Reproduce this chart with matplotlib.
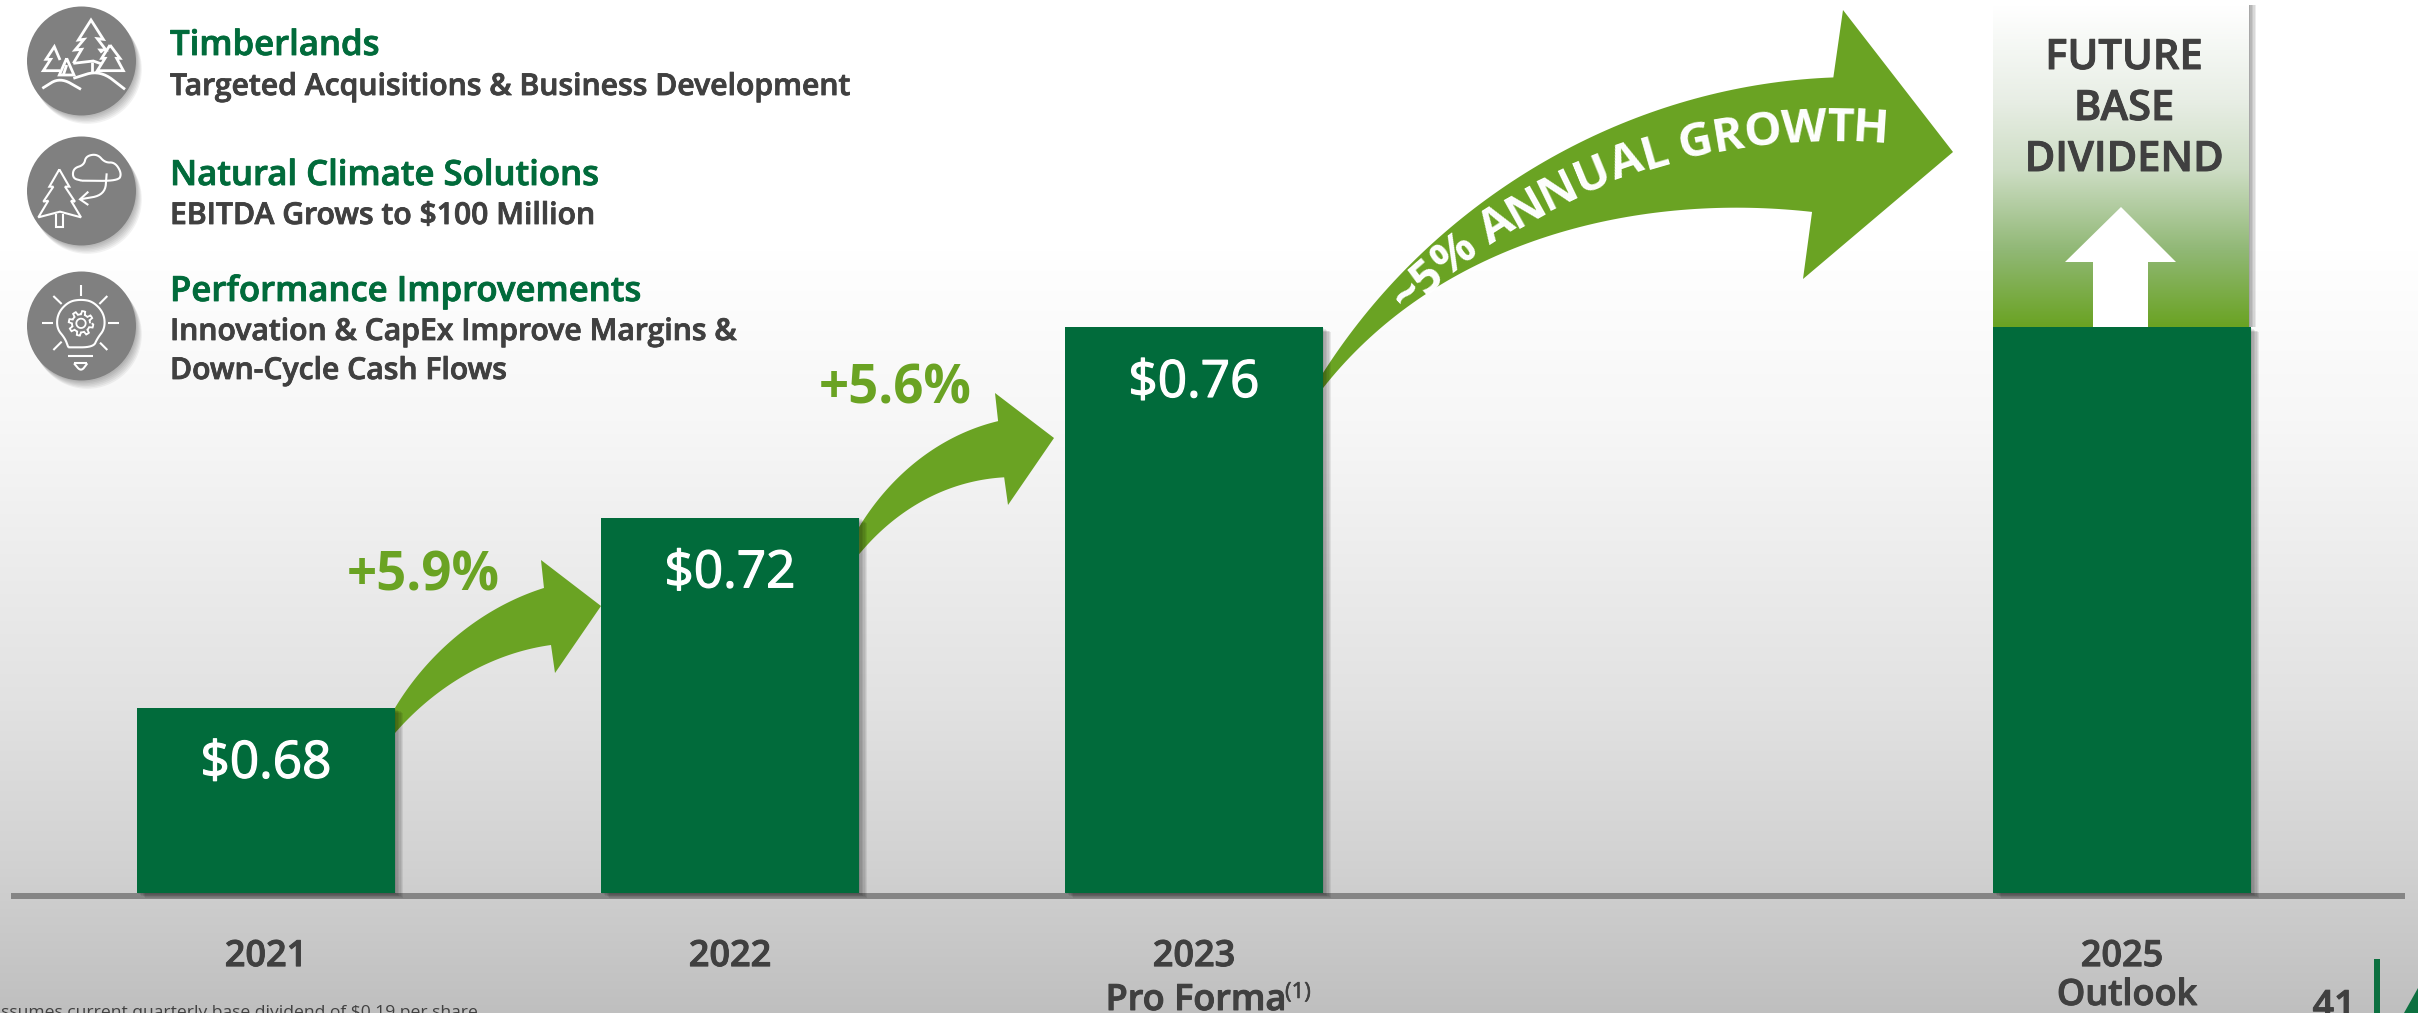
import numpy as np
import matplotlib
matplotlib.use('Agg')
import matplotlib.pyplot as plt
import matplotlib.patheffects as pe
from matplotlib.patches import Circle, Polygon, Rectangle
from matplotlib.textpath import TextPath
from matplotlib.font_manager import FontProperties

W, H = 2418, 1013
FONT = 'Open Sans'
plt.rcParams['font.family'] = [FONT, 'DejaVu Sans']

# chart data
years = [2021, 2022, 2023, 2025]
values = [0.68, 0.72, 0.76, 0.76]
value_labels = ['$0.68', '$0.72', '$0.76', '']
year_labels = ['2021', '2022', '2023', '2025']
growth_labels = ['+5.9%', '+5.6%']
axis_floor = 0.6411

# legend block
titles = ['Timberlands', 'Natural Climate Solutions', 'Performance Improvements']
subtitles = ['Targeted Acquisitions & Business Development', 'EBITDA Grows to $100 Million',
             'Innovation & CapEx Improve Margins &\nDown-Cycle Cash Flows']

DARK = '#016B3B'
LIGHT = '#6AA323'
GREY = '#404040'
ICON = '#808080'


def smooth(pts, n=4):
    # corner cutting, keeps the end points
    pts = np.array(pts, float)
    for _ in range(n):
        q = pts[:-1] * 0.75 + pts[1:] * 0.25
        r = pts[:-1] * 0.25 + pts[1:] * 0.75
        new = np.empty((len(q) * 2, 2))
        new[0::2] = q
        new[1::2] = r
        pts = np.vstack([pts[0], new, pts[-1]])
    return pts


def fit(pts, deg=3, n=80):
    # smooth cubic through the picked outline points
    p = np.array(pts, float)
    t = np.r_[0, np.cumsum(np.hypot(*np.diff(p, axis=0).T))]
    tt = np.linspace(0, t[-1], n)
    return np.c_[np.polyval(np.polyfit(t, p[:, 0], deg), tt), np.polyval(np.polyfit(t, p[:, 1], deg), tt)]


def shadow(steps=6, dx=1.0, dy=-0.6, alpha=0.07):
    fx = [pe.SimplePatchShadow(offset=(dx * k, dy * k), shadow_rgbFace='k', alpha=alpha, rho=1)
          for k in range(steps, 0, -1)]
    return fx + [pe.Normal()]


def semi(color, w=0.5):
    return [pe.withStroke(linewidth=w, foreground=color)]


def arrow(ax, upper, lower, barb_up, tip, barb_low):
    up = fit(upper)
    lo = fit(lower)
    ax.add_patch(Polygon(np.vstack([up, [barb_up, tip, barb_low], lo[::-1]]),
                         closed=True, fc=LIGHT, ec='none'))


fig = plt.figure(figsize=(W / 100, H / 100), dpi=100)

# back layer in pixels: background, arrows, axis line
bg = fig.add_axes([0, 0, 1, 1], zorder=0)
bg.axis('off')
yy = np.arange(H)
shade = np.interp(yy, [0, 250, 350, 420, 700, 860, 1013], [255, 255, 250, 247, 226, 210, 191]) / 255
bg.imshow(np.stack([shade, shade, shade], axis=1)[:, None], extent=(0, W, H, 0), aspect='auto', zorder=0)
bg.set_xlim(0, W)
bg.set_ylim(H, 0)

arrow(bg, [(395, 708), (422, 670), (456, 637), (499, 607), (544, 588)],
      [(395, 733), (429, 700), (465, 675), (509, 655), (551, 645)],
      (541, 560), (601, 606), (555, 673))
arrow(bg, [(859, 527), (887, 490), (921, 457), (960, 435), (998, 421)],
      [(859, 554), (892, 523), (926, 497), (965, 485), (1004, 477)],
      (995, 393), (1054, 438), (1008, 505))
arrow(bg, [(1322, 373), (1396, 283), (1491, 192), (1574, 147), (1657, 110), (1746, 88), (1833, 77)],
      [(1322, 388), (1396, 320), (1459, 270), (1542, 238), (1619, 220), (1683, 210), (1734, 207), (1812, 212)],
      (1843, 10), (1953, 152), (1803, 279))

bg.add_patch(Rectangle((11, 893), 2394, 6, fc='#858585', ec='none', zorder=3))

# gradient column above the 2025 bar
bg.add_patch(Rectangle((1993, 5), 256, 322, fc='w', ec='none', zorder=2,
                       path_effects=shadow(steps=5, dx=1.0, dy=0, alpha=0.08)))
gy = np.linspace(5, 327, 200)
gs_c = np.array([[255, 255, 255], [244, 247, 243], [232, 238, 229], [205, 221, 196], [145, 184, 118], [106, 163, 35]]) / 255
grad = np.stack([np.interp(gy, [5, 50, 100, 170, 250, 327], gs_c[:, i]) for i in range(3)], axis=1)[:, None]
bg.imshow(grad, extent=(1993, 2249, 327, 5), aspect='auto', zorder=2.5)
bg.set_xlim(0, W)
bg.set_ylim(H, 0)
bg.add_patch(Polygon([(2121, 207), (2176, 262), (2148, 262), (2148, 327), (2093, 327), (2093, 262), (2065, 262)],
                     closed=True, fc='w', ec='none', zorder=3))

# bars go through a real year / value scale
ax = fig.add_axes([0, 0, 1, 1], zorder=1)
ax.patch.set_alpha(0)
ax.set_xlim(2021 - 266 / 464, 2021 + (W - 266) / 464)
ax.set_ylim(0.68 + (708 - H) / 4760, 0.68 + 708 / 4760)
ax.axis('off')
bars = ax.bar(years, np.array(values) - axis_floor, bottom=axis_floor, width=0.556, color=DARK)
for b in bars:
    b.set_path_effects(shadow())
for x, v, s in zip(years, values, value_labels):
    ax.annotate(s, (x, v), xytext=(0, -40.5), textcoords='offset points', ha='center', va='center',
                color='w', fontsize=37, fontweight=500, path_effects=semi('w', 0.9))
for x, s in zip(years, year_labels):
    ax.annotate(s, (x, axis_floor), xytext=(0, -52.5), textcoords='offset points', ha='center', va='baseline',
                color=GREY, fontsize=26, fontweight=600, path_effects=semi(GREY, 0.7))

# top layer in pixels: texts and icons
top = fig.add_axes([0, 0, 1, 1], zorder=2)
top.patch.set_alpha(0)
top.set_xlim(0, W)
top.set_ylim(H, 0)
top.axis('off')

top.text(1196, 1010, 'Pro Forma', ha='center', va='baseline', color=GREY, fontsize=26, fontweight=600,
         path_effects=semi(GREY, 0.7))
top.text(1285, 998, '(1)', ha='left', va='baseline', color=GREY, fontsize=16, path_effects=semi(GREY, 0.4))
top.text(2127, 1005, 'Outlook', ha='center', va='baseline', color=GREY, fontsize=26, fontweight=600,
         path_effects=semi(GREY, 0.7))

for s, (x, y) in zip(growth_labels, [(423, 590), (895, 403)]):
    top.text(x, y, s, ha='center', va='baseline', color=LIGHT, fontsize=38, fontweight='bold')

for s, y in zip(['FUTURE', 'BASE', 'DIVIDEND'], [69, 120, 171]):
    top.text(2124, y, s, ha='center', va='baseline', color=GREY, fontsize=30, fontweight=600,
             path_effects=semi(GREY, 0.7))

top.text(478, 1017, 'Assumes current quarterly base dividend of $0.19 per share', ha='right', va='baseline',
         color=GREY, fontsize=12.6)
top.text(2334, 1017, '41', ha='center', va='baseline', color=GREY, fontsize=27, fontweight=600,
         path_effects=semi(GREY, 0.7))
top.add_patch(Rectangle((2374, 959), 6, H - 959, fc='#0C7040', ec='none'))
top.add_patch(Polygon([(2404, H), (2418, 988), (2418, H)], closed=True, fc='#0C7040', ec='none'))

# legend texts
title_y = [55, 185, 301]
sub_y = [95, 224, 340]
for t, s, y1, y2 in zip(titles, subtitles, title_y, sub_y):
    top.text(170, y1, t, color=DARK, fontsize=25, fontweight=600, va='baseline', path_effects=semi(DARK, 0.6))
    for i, txt in enumerate(s.split('\n')):
        top.text(170, y2 + i * 39, txt, color=GREY, fontsize=21.7, fontweight=600, va='baseline',
                 path_effects=semi(GREY, 0.6))

# curved text, one glyph at a time, along its baseline
curve = fit([(1408, 312), (1438, 287), (1505, 236), (1600, 185), (1689, 158), (1780, 144), (1886, 143)], deg=3, n=150)
seg = np.hypot(*np.diff(curve, axis=0).T)
dist = np.r_[0, np.cumsum(seg)]
word = '~5% ANNUAL GROWTH'
fp = FontProperties(family=FONT, weight='bold', size=34)
pos = []
prev = 0
for i, ch in enumerate(word):
    end = prev + 14 if ch == ' ' else TextPath((0, 0), word[:i + 1], prop=fp).get_extents().x1 * 100 / 72
    pos.append((prev + end) / 2)
    prev = end
scale = dist[-1] / prev
for ch, p in zip(word, pos):
    d = p * scale
    x = np.interp(d, dist, curve[:, 0])
    y = np.interp(d, dist, curve[:, 1])
    i = min(np.searchsorted(dist, d), len(curve) - 2)
    k = min(i + 4, len(curve) - 1)
    j = max(i - 4, 0)
    ang = np.degrees(np.arctan2(curve[j, 1] - curve[k, 1], curve[k, 0] - curve[j, 0]))
    top.text(x, y, ch, rotation=ang, rotation_mode='anchor', ha='center', va='baseline',
             color='w', fontproperties=fp)

# icons, drawn in the same scale as a 3x crop of each
centers = [(81.5, 61), (81.5, 191), (81.5, 326)]
for c in centers:
    top.add_patch(Circle(c, 54.5, fc=ICON, ec='none',
                         path_effects=shadow(steps=6, dx=0.7, dy=-1.0, alpha=0.05)))


def line(pts, off, curved=False, lw=2.0):
    pts = np.array(pts, float)
    if curved:
        pts = smooth(pts, 3)
    top.plot(10 + pts[:, 0] / 3, off + pts[:, 1] / 3, color='w', lw=lw, solid_joinstyle='miter', solid_capstyle='butt')


# trees on hills
line([(190, 190), (215, 148), (195, 150), (222, 118), (205, 120), (243, 60), (280, 118), (262, 116), (288, 150), (270, 150), (276, 158)], 0)
line([(190, 190), (250, 183), (275, 192)], 0)
line([(245, 185), (245, 217)], 0)
line([(150, 180), (133, 140), (108, 178), (122, 178), (100, 212), (150, 212)], 0)
line([(170, 175), (148, 225), (192, 225), (170, 175)], 0)
line([(170, 195), (160, 225)], 0)
line([(300, 135), (275, 175), (285, 175), (262, 212), (340, 212), (320, 175), (330, 175), (300, 135)], 0)
line([(97, 265), (150, 232), (213, 268)], 0, True)
line([(190, 235), (270, 210), (345, 268)], 0, True)

# tree and cloud
line([(148, 118), (118, 170), (130, 170), (100, 215), (115, 212), (85, 262), (150, 245), (213, 262), (183, 212), (195, 215), (165, 170), (178, 170), (148, 118)], 130, lw=1.5)
line([(138, 252), (138, 290), (158, 290), (158, 252)], 130, lw=1.5)
line([(215, 152), (188, 145), (190, 115), (222, 105), (228, 78), (262, 72), (285, 98), (315, 97), (335, 130), (325, 153), (215, 152)], 130, True, lw=1.5)
line([(290, 130), (285, 195), (210, 208)], 130, True, lw=1.5)
line([(235, 185), (210, 208), (235, 225)], 130, lw=1.5)

# light bulb with gear
for r in [((213, 75), (213, 108)), ((130, 108), (155, 132)), ((292, 108), (268, 132)), ((97, 188), (130, 188)),
          ((295, 188), (327, 188)), ((130, 270), (155, 245)), ((292, 270), (270, 248)), ((175, 287), (248, 287)),
          ((192, 310), (232, 310))]:
    line(r, 260, lw=1.5)
line([(175, 262), (165, 235), (140, 205), (143, 160), (175, 125), (213, 118), (250, 125), (282, 160), (285, 205), (262, 235), (250, 262), (175, 262)], 260, True, lw=1.5)
line([(192, 310), (213, 335), (232, 310)], 260, True, lw=1.5)
ang = np.linspace(0, 2 * np.pi, 73)
gear = 32 + 5 * np.sign(np.sin(8 * ang))
line(np.c_[213 + gear * np.cos(ang), 190 + gear * np.sin(ang)], 260, lw=1.3)
line(np.c_[213 + 14 * np.cos(ang), 190 + 14 * np.sin(ang)], 260, lw=1.3)

fig.savefig('out.png', dpi=100)
